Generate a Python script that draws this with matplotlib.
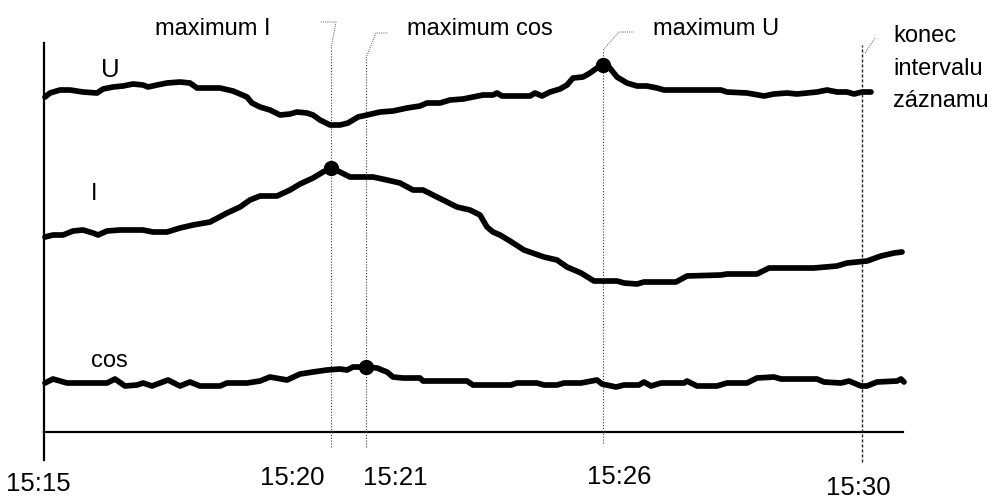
import matplotlib
matplotlib.use("Agg")
import matplotlib.pyplot as plt

# ---------------- data (x: position along time axis, y: signal level) -------------
u_x = [1, 6, 16, 26, 39, 53, 59, 69, 79, 89, 99, 104, 113, 123, 136, 146, 153, 163, 176,
       189, 203, 208, 216, 226, 236, 246, 253, 263, 269, 276, 286, 296, 304, 314, 323, 336,
       349, 363, 376, 383, 396, 406, 419, 429, 439, 449, 453, 458, 486, 491, 498, 506, 516,
       523, 529, 539, 546, 553, 559, 565, 573, 583, 593, 603, 613, 620, 677, 683, 703, 720,
       730, 743, 753, 763, 773, 783, 793, 803, 810, 818, 827]
u_y = [335, 339, 342, 342, 340, 339, 343, 345, 346, 348, 347, 345, 347, 349, 350, 349, 344,
       344, 344, 341, 335, 329, 325, 322, 317, 318, 320, 319, 317, 312, 307, 307, 309, 315,
       317, 320, 321, 324, 326, 329, 329, 332, 333, 335, 337, 337, 339, 336, 336, 339, 336,
       340, 343, 347, 354, 355, 359, 364, 367, 365, 355, 349, 346, 346, 344, 342, 342, 340,
       339, 336, 338, 339, 338, 339, 340, 342, 340, 340, 338, 340, 340]

i_x = [1, 9, 19, 29, 39, 49, 54, 63, 76, 99, 109, 123, 136, 149, 166, 183, 196, 206, 216,
       233, 246, 256, 269, 279, 287, 296, 306, 329, 343, 356, 369, 379, 389, 399, 413, 426,
       436, 443, 449, 456, 466, 480, 500, 513, 523, 537, 550, 573, 580, 593, 600, 632, 643,
       677, 683, 713, 725, 770, 793, 803, 823, 837, 850, 858]
i_y = [195, 197, 197, 201, 202, 199, 197, 201, 202, 202, 200, 200, 204, 207, 210, 219, 225,
       232, 236, 236, 242, 248, 254, 260, 264, 260, 255, 255, 252, 249, 242, 242, 237, 232,
       225, 222, 217, 205, 200, 197, 191, 182, 175, 172, 165, 159, 151, 151, 149, 148, 150,
       150, 156, 157, 158, 158, 164, 164, 166, 169, 171, 176, 179, 180]

cos_x = [1, 9, 23, 63, 71, 81, 93, 99, 108, 116, 124, 136, 146, 156, 176, 183, 203, 216,
         226, 243, 256, 269, 283, 296, 303, 309, 322, 333, 343, 349, 359, 376, 379, 423, 429,
         467, 473, 493, 500, 513, 520, 537, 553, 558, 572, 580, 595, 600, 607, 617, 640, 643,
         653, 673, 683, 703, 713, 730, 737, 773, 780, 797, 805, 817, 823, 833, 853, 857, 860]
cos_y = [49, 53, 49, 49, 53, 46, 47, 49, 46, 49, 52, 46, 50, 46, 46, 49, 49, 51, 55, 52, 58,
         60, 62, 63, 62, 65, 65, 64, 60, 55, 54, 54, 51, 51, 47, 47, 49, 49, 47, 47, 49, 49,
         52, 48, 45, 47, 47, 50, 46, 49, 49, 51, 46, 46, 49, 49, 54, 55, 53, 53, 50, 49, 51,
         46, 46, 50, 51, 53, 50]

# maxima markers
max_u = (559, 367)
max_i = (287, 264)
max_cos = (322, 65)
end_x = 818

series_labels = ["U", "I", "cos"]
tick_labels = ["15:15", "15:20", "15:21", "15:26", "15:30"]
marker_labels = ["maximum I", "maximum cos", "maximum U"]
end_label = ["konec", "intervalu", "záznamu"]

# ---------------- figure ----------------
W, H = 994, 500
fig = plt.figure(figsize=(W / 100, H / 100), dpi=100)
ax0 = 44; ay0 = 432; ax1 = 903; ay1 = 43
ax = fig.add_axes([ax0 / W, 1 - ay0 / H, (ax1 - ax0) / W, (ay0 - ay1) / H])
ax.set_xlim(0, ax1 - ax0)
ax.set_ylim(0, ay0 - ay1)
ax.set_axis_off()


def fp(x, y):
    """figure pixel (top-left origin) -> figure fraction"""
    return x / W, 1 - y / H


LW = 4.1
kw = dict(color="black", lw=LW, solid_capstyle="round", solid_joinstyle="round",
          clip_on=False, zorder=3)
ax.plot(u_x, u_y, **kw)
ax.plot(i_x, i_y, **kw)
ax.plot(cos_x, cos_y, **kw)
for m in (max_u, max_i, max_cos):
    ax.plot(m[0], m[1], "o", color="black", ms=10, clip_on=False, zorder=4)

# axis lines
ax.plot([0, 0], [-28, 389], color="black", lw=1.6, clip_on=False)
ax.plot([0, ax1 - ax0], [0, 0], color="black", lw=1.6, clip_on=False)

# vertical marker lines
dot = dict(color="#333333", lw=0.8, ls=(0, (1, 1.6)), clip_on=False, zorder=2)
ax.plot([max_i[0], max_i[0]], [-15, 384], **dot)
ax.plot([max_cos[0], max_cos[0]], [-15, 374], **dot)
ax.plot([max_u[0], max_u[0]], [-11, 382], **dot)
ax.plot([end_x, end_x], [-30, 387], color="#222222", lw=1.0, ls=(0, (2.2, 1.4)),
        clip_on=False, zorder=2)

# leader lines (figure pixel coordinates)
lead = dict(color="#555555", lw=0.7, ls=(0, (1, 1.2)))
for pts in ([(331, 48), (336, 22), (320, 22)],
            [(366, 58), (376, 33), (388, 33)],
            [(603, 50), (619, 32), (634, 32)],
            [(865, 53), (875, 38)]):
    xs = [fp(*p)[0] for p in pts]
    ys = [fp(*p)[1] for p in pts]
    fig.add_artist(plt.Line2D(xs, ys, transform=fig.transFigure, **lead))

font = ["Liberation Sans", "DejaVu Sans"]

for txt, (x, y) in zip(marker_labels, [(155, 29), (407, 29), (653, 29)]):
    fig.text(*fp(x, y), txt, ha="left", va="center", fontsize=17, family=font)

for txt, y in zip(end_label, [42, 75, 107]):
    fig.text(*fp(893, y), txt, ha="left", va="baseline", fontsize=17, family=font)

for txt, (x, y), fs in zip(series_labels, [(110, 70), (94, 194), (109, 361)], [18.5, 17, 17]):
    fig.text(*fp(x, y), txt, ha="center", va="center", fontsize=fs, family=font)

for txt, (x, y) in zip(tick_labels, [(38, 484), (292, 478), (395, 478), (619, 477), (858, 488)]):
    fig.text(*fp(x, y), txt, ha="center", va="center", fontsize=18.5, family=font)

fig.savefig("out.png", dpi=100)
